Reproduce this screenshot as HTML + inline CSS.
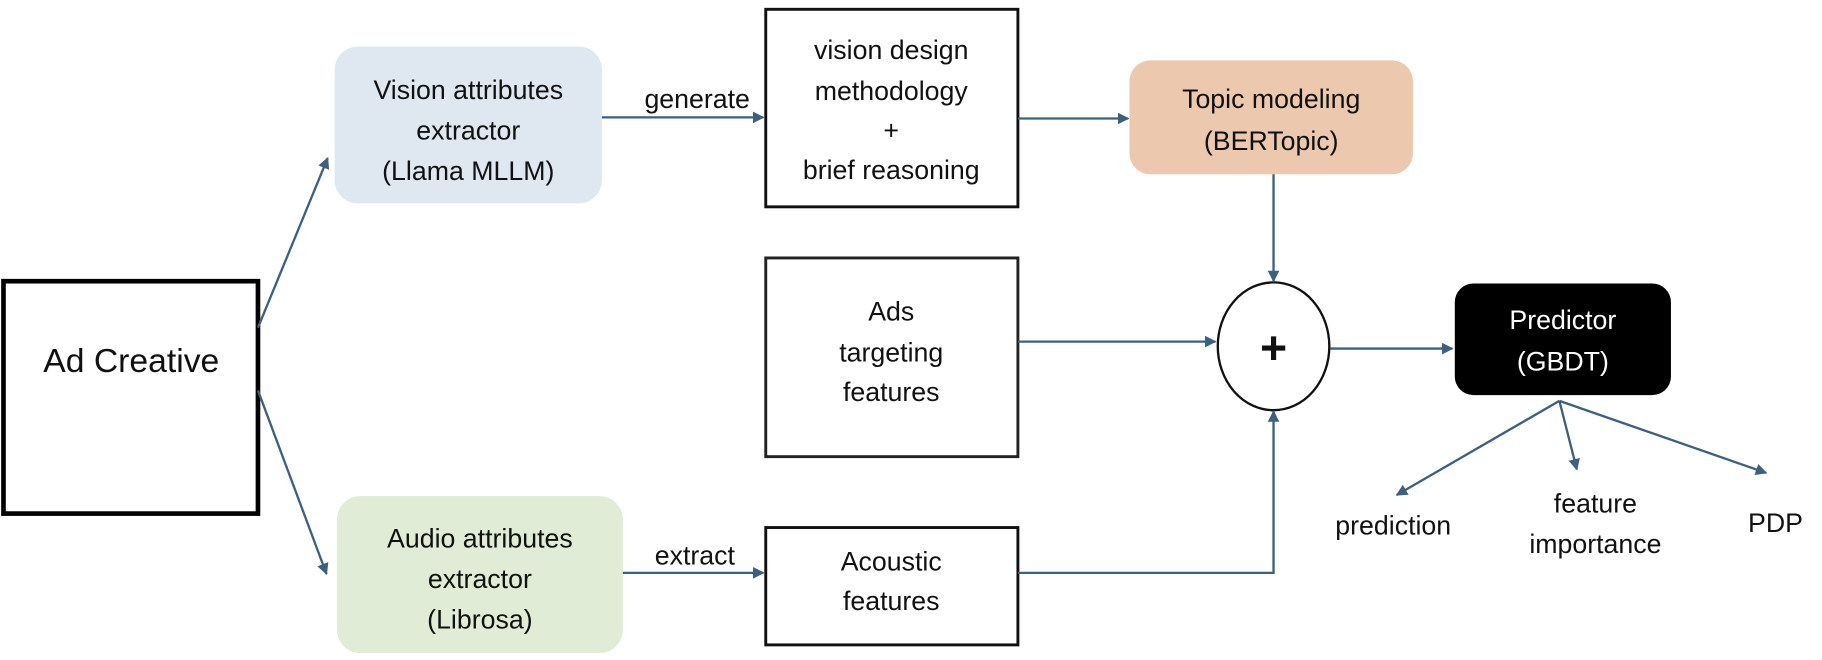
<!DOCTYPE html>
<html><head><meta charset="utf-8"><style>html,body{margin:0;padding:0;background:#fff}svg{display:block}</style></head>
<body>
<svg width="1822" height="660" viewBox="0 0 1568 568" preserveAspectRatio="none" xmlns="http://www.w3.org/2000/svg" font-family="Liberation Sans, sans-serif">
<defs>
<marker id="a" viewBox="0 0 10 10" refX="9" refY="5" markerWidth="5" markerHeight="5" orient="auto"><path d="M0,0L10,5L0,10z" fill="#3d5f80"/></marker>
</defs>
<rect x="3" y="242" width="219" height="200" fill="#fff" stroke="#000" stroke-width="4"/>
<rect x="288" y="40" width="230" height="135" rx="20" fill="#dfe7f1"/>
<rect x="290" y="427" width="246" height="135" rx="20" fill="#e0ecd5"/>
<rect x="659" y="8" width="217" height="170" fill="#fff" stroke="#111" stroke-width="2.5"/>
<rect x="659" y="222" width="217" height="171" fill="#fff" stroke="#222" stroke-width="2.5"/>
<rect x="659" y="454" width="217" height="101" fill="#fff" stroke="#111" stroke-width="2.5"/>
<rect x="972" y="52" width="244" height="98" rx="18" fill="#ecc9ae"/>
<ellipse cx="1096" cy="298" rx="48" ry="55" fill="#fff" stroke="#111" stroke-width="2"/>
<rect x="1252" y="244" width="186" height="96" rx="16" fill="#000"/>
<g stroke="#3d5f80" stroke-width="2" fill="none" marker-end="url(#a)">
<line x1="222" y1="282" x2="282" y2="136"/>
<line x1="222" y1="336" x2="281" y2="494"/>
<line x1="518" y1="101" x2="657" y2="101"/>
<line x1="876" y1="102" x2="971" y2="102"/>
<line x1="1096" y1="150" x2="1096" y2="242"/>
<line x1="876" y1="294" x2="1046" y2="294"/>
<polyline points="876,493 1096,493 1096,354"/>
<line x1="536" y1="493" x2="657" y2="493"/>
<line x1="1145" y1="300" x2="1250" y2="300"/>
<line x1="1342" y1="345" x2="1202" y2="426"/>
<line x1="1342" y1="345" x2="1357" y2="404"/>
<line x1="1342" y1="345" x2="1520" y2="407"/>
</g>
<g font-size="23" fill="#111" text-anchor="middle">
<text x="113" y="320" font-size="29">Ad Creative</text>
<text x="403" y="85">Vision attributes</text>
<text x="403" y="120">extractor</text>
<text x="403" y="155">(Llama MLLM)</text>
<text x="600" y="93">generate</text>
<text x="767" y="51">vision design</text>
<text x="767" y="86">methodology</text>
<text x="767" y="120">+</text>
<text x="767" y="154">brief reasoning</text>
<text x="1094" y="93">Topic modeling</text>
<text x="1094" y="129">(BERTopic)</text>
<text x="1096" y="313" font-size="40" font-weight="bold">+</text>
<text x="767" y="276">Ads</text>
<text x="767" y="311">targeting</text>
<text x="767" y="345">features</text>
<text x="413" y="471">Audio attributes</text>
<text x="413" y="506">extractor</text>
<text x="413" y="541">(Librosa)</text>
<text x="598" y="486">extract</text>
<text x="767" y="491">Acoustic</text>
<text x="767" y="525">features</text>
<text x="1345" y="283" fill="#fff">Predictor</text>
<text x="1345" y="319" fill="#fff">(GBDT)</text>
<text x="1199" y="460">prediction</text>
<text x="1373" y="441">feature</text>
<text x="1373" y="476">importance</text>
<text x="1528" y="458">PDP</text>
</g>
</svg>
</body></html>
